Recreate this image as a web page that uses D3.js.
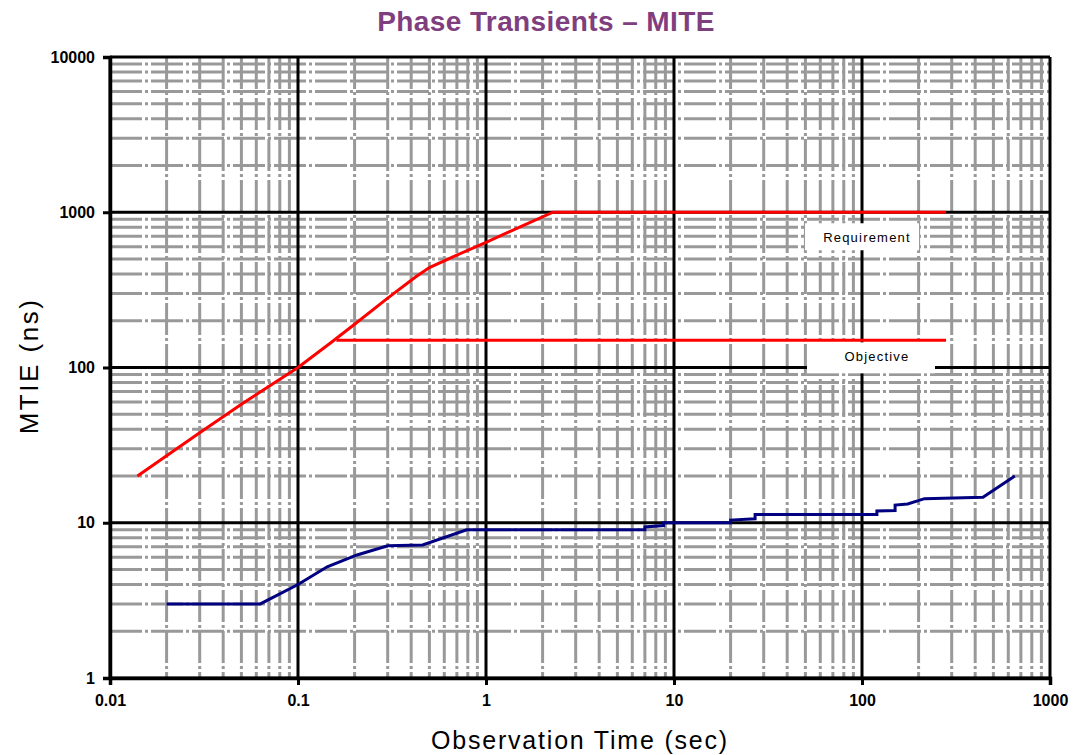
<!DOCTYPE html>
<html><head><meta charset="utf-8">
<script src="https://cdn.jsdelivr.net/npm/d3@7"></script>
<style>body{margin:0;background:#fff}svg{display:block}</style>
</head><body><svg id="c" width="1073" height="755"></svg>
<script>
const title = "Phase Transients – MITE";
const xTitle = "Observation Time (sec)";
const yTitle = "MTIE (ns)";
const xTicks = [0.01, 0.1, 1, 10, 100, 1000];
const xTickLabels = ["0.01", "0.1", "1", "10", "100", "1000"];
const yTicks = [1, 10, 100, 1000, 10000];
const yTickLabels = ["1", "10", "100", "1000", "10000"];

// Requirement mask (red)
const reqT = [0.014, 0.02, 0.03, 0.05, 0.1, 0.15, 0.2, 0.3, 0.42, 0.5, 0.7, 1, 1.5, 2.27, 280];
const reqV = [20, 27, 38, 58, 100, 145, 190, 280, 381, 440, 530, 640, 800, 1000, 1000];
// Objective mask (red)
const objT = [0.16, 280];
const objV = [150, 150];
// Measured MTIE (navy)
const measT = [0.02, 0.063, 0.1, 0.143, 0.206, 0.3, 0.46, 0.79, 7.0, 7.0, 8.8, 8.8, 20, 20, 27, 27, 120, 120, 150, 150, 175, 215, 440, 650];
const measV = [3, 3, 4, 5.2, 6.2, 7.1, 7.2, 9, 9, 9.4, 9.6, 10, 10, 10.4, 10.6, 11.3, 11.3, 11.9, 12, 13, 13.2, 14.3, 14.6, 20];

const annText = ["Requirement", "Objective"];
const annT = [100, 100];
const annV = [690, 118];

const FONT = "Liberation Sans, Arial, sans-serif";
const svg = d3.select("#c");
const x = d3.scaleLog().domain([0.01, 1000]).range([110, 1050]);
const y = d3.scaleLog().domain([1, 10000]).range([678, 57]);

// minor values
const minorX = [], minorY = [];
for (let k = -2; k < 3; k++) for (let m = 2; m <= 9; m++) minorX.push(m * Math.pow(10, k));
for (let k = 0; k < 4; k++) for (let m = 2; m <= 9; m++) minorY.push(m * Math.pow(10, k));

const grid = svg.append("g");
grid.selectAll(".mh").data(minorY).enter().append("line")
  .attr("x1", x(0.01)).attr("x2", x(1000)).attr("y1", d => y(d)).attr("y2", d => y(d))
  .attr("stroke", "#999").attr("stroke-width", 3).attr("stroke-dasharray", "32,3,3,3");
grid.selectAll(".mv").data(minorX).enter().append("line")
  .attr("y1", y(10000)).attr("y2", y(1)).attr("x1", d => x(d)).attr("x2", d => x(d))
  .attr("stroke", "#999").attr("stroke-width", 3).attr("stroke-dasharray", "32,3,3,3");
grid.selectAll(".Mh").data(yTicks).enter().append("line")
  .attr("x1", x(0.01)).attr("x2", x(1000)).attr("y1", d => y(d)).attr("y2", d => y(d))
  .attr("stroke", "#000").attr("stroke-width", 3);
grid.selectAll(".Mv").data(xTicks).enter().append("line")
  .attr("y1", y(10000)).attr("y2", y(1)).attr("x1", d => x(d)).attr("x2", d => x(d))
  .attr("stroke", "#000").attr("stroke-width", 3);

// axes
const xAxis = d3.axisBottom(x).tickValues(xTicks).tickFormat((d, i) => xTickLabels[i]).tickSize(7).tickPadding(10);
const yAxis = d3.axisLeft(y).tickValues(yTicks).tickFormat((d, i) => yTickLabels[i]).tickSize(7).tickPadding(8);
const gx = svg.append("g").attr("transform", `translate(0,${y(1)})`).call(xAxis);
const gy = svg.append("g").attr("transform", `translate(${x(0.01)},0)`).call(yAxis);
[gx, gy].forEach(g => {
  g.select(".domain").attr("stroke", "#000").attr("stroke-width", 3.5);
  g.selectAll(".tick line").attr("stroke", "#000").attr("stroke-width", 3);
  g.selectAll(".tick text").attr("fill", "#000").attr("font-family", FONT)
    .attr("font-size", 16).attr("font-weight", "bold");
});

// annotations
const ann = svg.append("g");
const boxW = [114, 128], boxH = [27, 31], boxDx = [0, 9];
annText.forEach((t, i) => {
  const cx = x(annT[i]), cy = y(annV[i]);
  ann.append("rect").attr("x", cx + boxDx[i] - boxW[i] / 2).attr("y", cy - 14)
    .attr("width", boxW[i]).attr("height", boxH[i]).attr("fill", "#fff");
  ann.append("text").attr("x", cx + (i ? 15 : 5)).attr("y", cy + 5).attr("text-anchor", "middle")
    .attr("font-family", FONT).attr("font-size", 13).attr("letter-spacing", 1.2)
    .attr("fill", "#000").text(t);
});

// series
const line = d3.line().x(d => x(d[0])).y(d => y(d[1]));
svg.append("path").datum(reqT.map((t, i) => [t, reqV[i]])).attr("d", line)
  .attr("fill", "none").attr("stroke", "#ff0000").attr("stroke-width", 3);
svg.append("path").datum(objT.map((t, i) => [t, objV[i]])).attr("d", line)
  .attr("fill", "none").attr("stroke", "#ff0000").attr("stroke-width", 3);
svg.append("path").datum(measT.map((t, i) => [t, measV[i]])).attr("d", line)
  .attr("fill", "none").attr("stroke", "#000080").attr("stroke-width", 3);

// titles
svg.append("text").attr("x", 546).attr("y", 31).attr("text-anchor", "middle")
  .attr("font-family", FONT).attr("font-size", 28).attr("font-weight", "bold").attr("letter-spacing", 0.4)
  .attr("fill", "#7f3f7f").text(title);
svg.append("text").attr("x", 580).attr("y", 749).attr("text-anchor", "middle")
  .attr("font-family", FONT).attr("font-size", 25).attr("letter-spacing", 1.8)
  .attr("fill", "#000").text(xTitle);
svg.append("text").attr("transform", "translate(38,366) rotate(-90)").attr("text-anchor", "middle")
  .attr("font-family", FONT).attr("font-size", 26).attr("letter-spacing", 2.5)
  .attr("fill", "#000").text(yTitle);
</script></body></html>
